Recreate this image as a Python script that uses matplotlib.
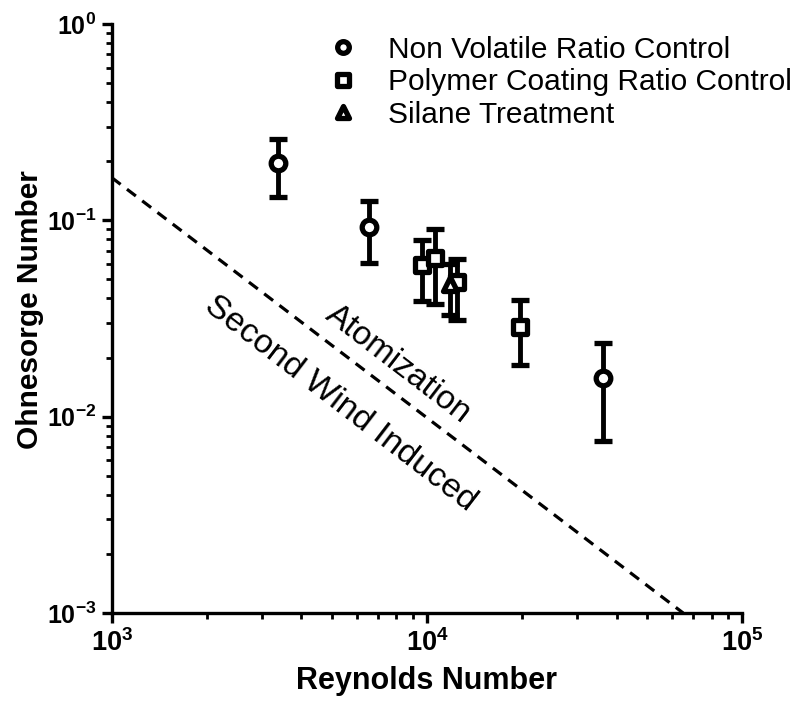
import numpy as np
import matplotlib
matplotlib.use("Agg")
import matplotlib.pyplot as plt
from matplotlib.markers import MarkerStyle
from matplotlib.ticker import LogLocator, FixedLocator

plt.rcParams['font.family'] = ['Liberation Sans', 'DejaVu Sans']

# data
nv_re = [3380, 6560, 36300]
nv_oh = [0.196, 0.0925, 0.0157]
nv_lo = [0.131, 0.0606, 0.0075]
nv_hi = [0.260, 0.125, 0.0237]

pc_re = [9640, 10620, 12480, 19770]
pc_oh = [0.0592, 0.064, 0.0485, 0.0286]
pc_lo = [0.0389, 0.0375, 0.031, 0.0183]
pc_hi = [0.0794, 0.090, 0.0635, 0.0393]

si_re = [11860]
si_oh = [0.0474]
si_lo = [0.033]
si_hi = [0.060]

# regime boundary (dashed)
line_re = [1000, 65000]
line_oh = [0.165, 0.001]

fig = plt.figure(figsize=(7.98, 7.05), dpi=100)
ax = fig.add_axes([0.14, 0.1305, 0.79, 0.8355])

line_style = dict(ls='none', mfc='white', mec='black', ecolor='black',
                  elinewidth=3.5, capsize=6.5, capthick=3.5, ms=10.5, mew=3.8)


def draw(x, y, lo, hi, marker, label):
    x = np.array(x)
    y = np.array(y)
    err = [y - np.array(lo), np.array(hi) - y]
    ax.errorbar(x, y, yerr=err, marker=MarkerStyle(marker, joinstyle='round'),
                label=label, **line_style)


draw(nv_re, nv_oh, nv_lo, nv_hi, 'o', 'Non Volatile Ratio Control')
draw(pc_re, pc_oh, pc_lo, pc_hi, 's', 'Polymer Coating Ratio Control')
draw(si_re, si_oh, si_lo, si_hi, '^', 'Silane Treatment')

ax.plot(line_re, line_oh, color='black', ls=(0, (3.5, 2.5)), lw=2.3, zorder=1)

ax.set_xscale('log')
ax.set_yscale('log')
ax.set_xlim(1e3, 1e5)
ax.set_ylim(1e-3, 1e0)

ax.xaxis.set_major_locator(FixedLocator([1e3, 1e4, 1e5]))
ax.yaxis.set_major_locator(FixedLocator([1e-3, 1e-2, 1e-1, 1e0]))
ax.xaxis.set_minor_locator(LogLocator(base=10, subs=np.arange(2, 10)))
ax.yaxis.set_minor_locator(LogLocator(base=10, subs=np.arange(2, 10)))
ax.set_xticklabels([r'$\mathregular{10^{3}}$', r'$\mathregular{10^{4}}$', r'$\mathregular{10^{5}}$'])
ax.set_yticklabels([r'$\mathregular{10^{-3}}$', r'$\mathregular{10^{-2}}$',
                    r'$\mathregular{10^{-1}}$', r'$\mathregular{10^{0}}$'])
ax.xaxis.set_minor_formatter(plt.NullFormatter())
ax.yaxis.set_minor_formatter(plt.NullFormatter())
for lab in ax.get_xticklabels() + ax.get_yticklabels():
    lab.set_fontweight('bold')

for s in ['top', 'right']:
    ax.spines[s].set_visible(False)
for s in ['left', 'bottom']:
    ax.spines[s].set_linewidth(2.4)
ax.tick_params(which='major', direction='out', length=7, width=2.4, labelsize=19.5, pad=5)
ax.tick_params(axis='y', which='major', labelsize=18, pad=4)
ax.tick_params(which='minor', direction='out', length=4, width=2)

ax.set_xlabel('Reynolds Number', fontsize=22, fontweight='bold', labelpad=6)
ax.set_ylabel('Ohnesorge Number', fontsize=21.5, fontweight='bold')
ax.yaxis.set_label_coords(-0.108, 0.515)

ax.text(8110, 0.0185, 'Atomization', fontsize=24, rotation=-37.5,
        ha='center', va='center')
ax.text(5325, 0.01159, 'Second Wind Induced', fontsize=24.5, rotation=-37.5,
        ha='center', va='center')

handles, labels = ax.get_legend_handles_labels()
handles = [h[0] for h in handles]
ax.legend(handles, labels, loc='upper left', bbox_to_anchor=(0.396, 0.966),
          bbox_transform=fig.transFigure, frameon=False, fontsize=21.5,
          markerscale=0.8, handlelength=1.0, handletextpad=1.0,
          labelspacing=0.15, borderaxespad=0)

fig.savefig('out.png', dpi=100)
